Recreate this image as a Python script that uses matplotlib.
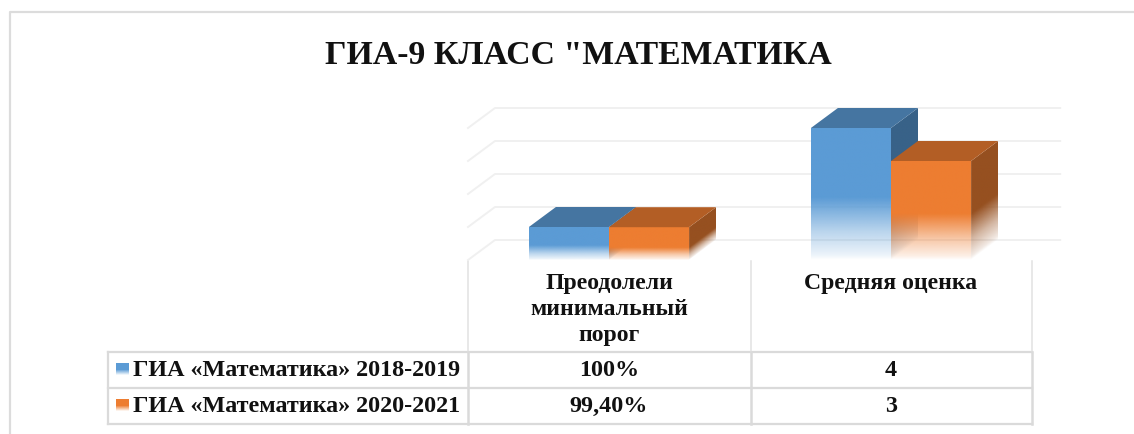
import numpy as np
import matplotlib
matplotlib.use('Agg')
import matplotlib.pyplot as plt
from matplotlib.patches import Polygon

plt.rcParams['font.family'] = ['Liberation Serif', 'DejaVu Serif']
plt.rcParams['font.weight'] = 'bold'

title = 'ГИА-9 КЛАСС "МАТЕМАТИКА'
categories = ['Преодолели\nминимальный\nпорог', 'Средняя оценка']
series_names = ['ГИА «Математика» 2018-2019', 'ГИА «Математика» 2020-2021']
# heights on the hidden axis (100% and 99,4% are drawn at about one unit)
heights_1 = [1.0, 4.0]
heights_2 = [0.994, 3.0]
labels_1 = ['100%', '4']
labels_2 = ['99,40%', '3']
yticks = [0, 1, 2, 3, 4]

front = ['#5b9bd5', '#ed7d31']
top = ['#4575a1', '#b35e25']
side = ['#386288', '#965020']
fade_1 = [0.45, 1.9]   # height where the bar starts fading out
fade_2 = [0.38, 1.4]

W, H = 1134, 434
fig = plt.figure(figsize=(W / 100, H / 100), dpi=100)

# full figure axes in pixels for frame and table
bg = fig.add_axes([0, 0, 1, 1])
bg.set_xlim(0, W)
bg.set_ylim(H, 0)
bg.axis('off')

# one category = 282 px, one unit = 33 px, axes are left bigger than the
# plot so the depth of the boxes is not clipped
ax = fig.add_axes([468 / W, (H - 260) / H, 620.4 / W, 165 / H])
ax.set_xlim(-0.5, 1.7)
ax.set_ylim(0, 5)
ax.axis('off')
ax.patch.set_alpha(0)

# depth of the fake 3d box, in data units
dx = 27 / 282
dy = 20 / 33
bar_w = 0.284


def fade_alpha(h, start):
    # solid above start, pale in the lower part, gone at the floor
    t = np.clip(h / start, 0, 1)
    return np.clip(np.interp(t, [0, 0.08, 0.45, 1], [0, 0.12, 0.42, 1]), 0, 1)


def shade(pts, color, start, skew=0.0):
    xs = [p[0] for p in pts]
    ys = [p[1] for p in pts]
    x0, x1, y0, y1 = min(xs), max(xs), min(ys), max(ys)
    gx, gy = np.meshgrid(np.linspace(x0, x1, 60), np.linspace(y0, y1, 200))
    h = gy - skew * (gx - x0)
    rgba = np.ones((200, 60, 4))
    rgba[..., :3] = matplotlib.colors.to_rgb(color)
    rgba[..., 3] = fade_alpha(h, start)
    im = ax.imshow(rgba, extent=(x0, x1, y0, y1), origin='lower', aspect='auto',
                   interpolation='bilinear', zorder=3)
    im.set_clip_path(Polygon(pts, transform=ax.transData))


def box(x, h, i, start):
    l, r = x, x + bar_w
    shade([(r, 0), (r + dx, dy), (r + dx, h + dy), (r, h)], side[i], start, skew=dy / dx)
    shade([(l, 0), (r, 0), (r, h), (l, h)], front[i], start)
    ax.add_patch(Polygon([(l, h), (r, h), (r + dx, h + dy), (l + dx, h + dy)],
                         fc=top[i], ec='none', zorder=4, clip_on=False))


# back grid
for v in yticks:
    ax.plot([-0.5, -0.5 + dx, 1.6], [v, v + dy, v + dy], color='#f0f0f0', lw=1.4,
            zorder=1, clip_on=False)

for k in range(len(categories)):
    box(k - bar_w, heights_1[k], 0, fade_1[k])
    box(k, heights_2[k], 1, fade_2[k])

ax.set_xlim(-0.5, 1.7)
ax.set_ylim(0, 5)

# outer frame, open on the right and the bottom
bg.plot([10, 10, W], [H, 12, 12], color='#dcdcdc', lw=1.6)

grid_c = '#dadada'
bg.plot([108, 1032], [352, 352], color=grid_c, lw=1.6)
bg.plot([108, 1032], [388, 388], color=grid_c, lw=1.6)
bg.plot([108, 1032], [424, 424], color=grid_c, lw=1.6)
bg.plot([108, 108], [352, 424], color=grid_c, lw=1.6)
for x0 in [468, 751, 1032]:
    bg.plot([x0, x0], [261, 352], color='#e2e2e2', lw=1.1)
    bg.plot([x0, x0], [352, 424], color=grid_c, lw=1.8)

bg.text(578, 56, title, fontsize=24.3, ha='center', va='center', color='#111111')

for k, name in enumerate(categories):
    bg.text(609 + 282 * k, 273, name, fontsize=17.1, ha='center', va='top', color='#111111',
            linespacing=1.32)

rows = [(370.5, series_names[0], labels_1, front[0]), (406.5, series_names[1], labels_2, front[1])]
for y, name, vals, col in rows:
    bg.text(133, y, name, fontsize=17.4, ha='left', va='center', color='#111111')
    grad = np.ones((12, 1, 4))
    grad[..., :3] = matplotlib.colors.to_rgb(col)
    grad[:, 0, 3] = np.interp(np.arange(12), [0, 6, 11], [1, 1, 0.1])
    bg.imshow(grad, extent=(116, 129, y + 5, y - 7), aspect='auto', zorder=3)
    for k, v in enumerate(vals):
        bg.text(609 + 282 * k, y, v, fontsize=17.4, ha='center', va='center', color='#111111')

bg.set_xlim(0, W)
bg.set_ylim(H, 0)

fig.savefig('out.png', dpi=100, facecolor='white')
